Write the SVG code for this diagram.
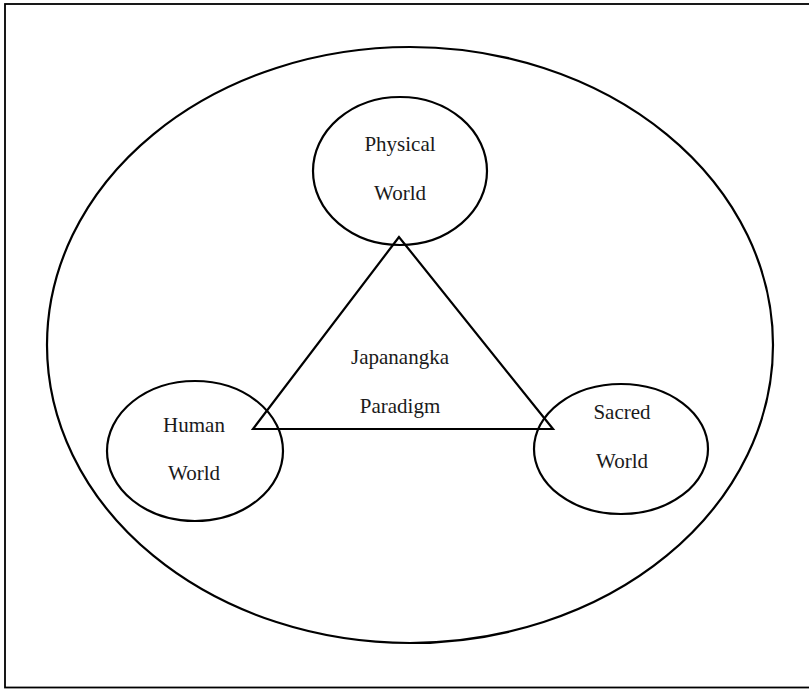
<svg xmlns="http://www.w3.org/2000/svg" width="809" height="689" viewBox="0 0 809 689">
<style>
.s{fill:none;stroke:#000;stroke-width:2.2}
.t{font-family:"Liberation Serif","Times New Roman",serif;font-size:21px;fill:#1a1a1a;text-anchor:middle}
</style>
<rect x="0" y="0" width="809" height="689" fill="#fff"/>
<rect x="5" y="4" width="806" height="683.5" fill="none" stroke="#000" stroke-width="1.8"/>
<g id="outer"><ellipse class="s" cx="410" cy="345" rx="363" ry="298"/></g>
<g id="connectors"><polygon class="s" points="399,237 253,429 553,429"/></g>
<g id="physical"><ellipse class="s" cx="400" cy="171" rx="87" ry="74"/><text class="t" x="400" y="151">Physical</text><text class="t" x="400" y="200">World</text></g>
<g id="human"><ellipse class="s" cx="195" cy="451" rx="88" ry="70"/><text class="t" x="194" y="432">Human</text><text class="t" x="194" y="480">World</text></g>
<g id="sacred"><ellipse class="s" cx="621" cy="449" rx="87" ry="65"/><text class="t" x="622" y="419">Sacred</text><text class="t" x="622" y="468">World</text></g>
<g id="center"><text class="t" x="400" y="364">Japanangka</text><text class="t" x="400" y="413">Paradigm</text></g>
</svg>
